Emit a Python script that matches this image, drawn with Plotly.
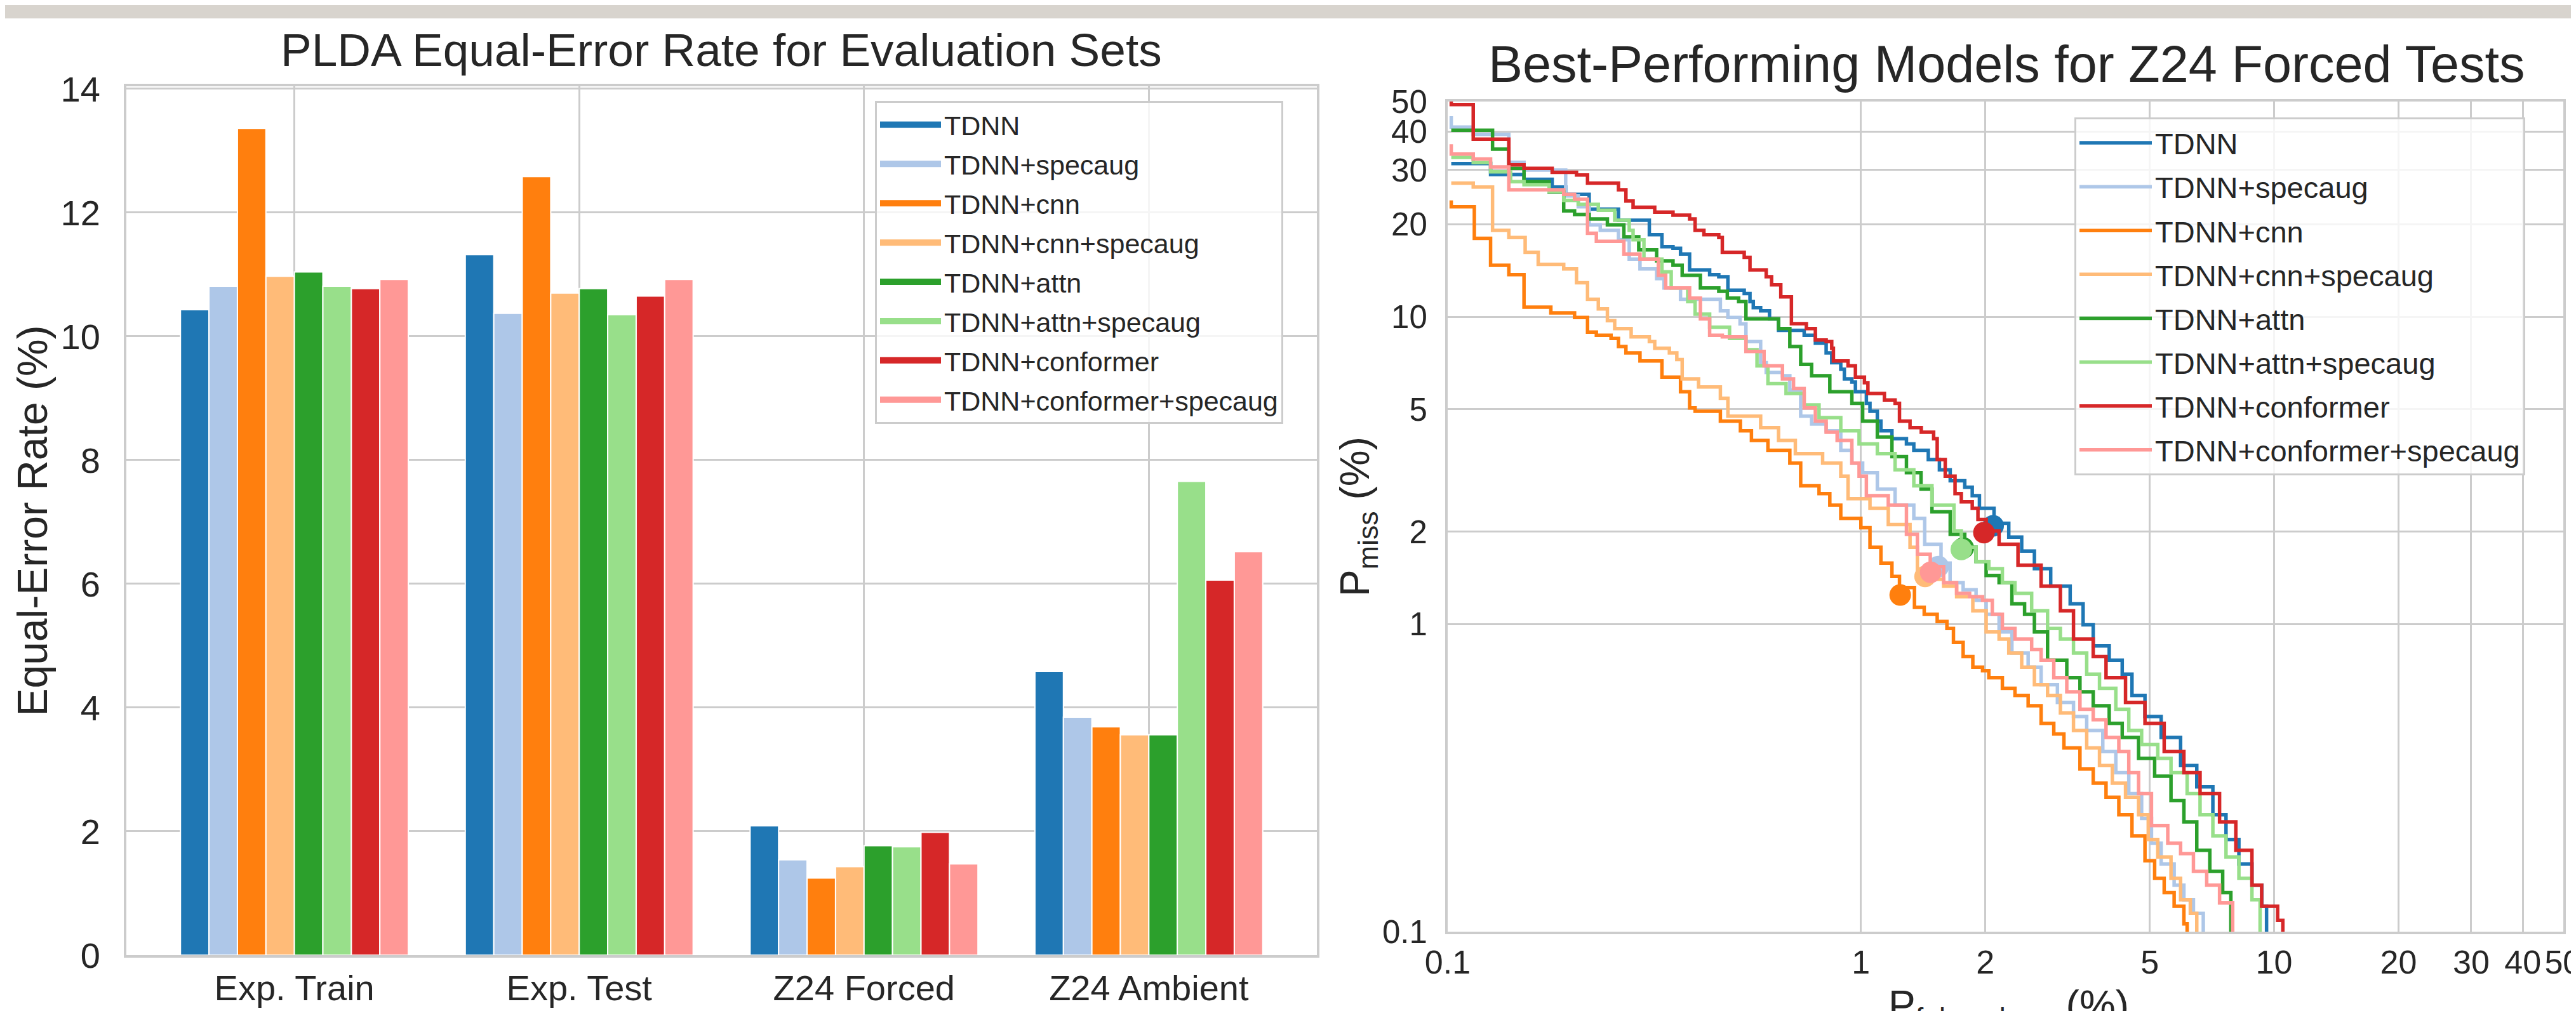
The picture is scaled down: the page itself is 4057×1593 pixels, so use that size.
import numpy as np
import plotly.graph_objects as go

# ---------------- data ----------------
categories = ["Exp. Train", "Exp. Test", "Z24 Forced", "Z24 Ambient"]
models = ["TDNN", "TDNN+specaug", "TDNN+cnn", "TDNN+cnn+specaug",
          "TDNN+attn", "TDNN+attn+specaug", "TDNN+conformer", "TDNN+conformer+specaug"]
colors = ["#1f77b4", "#aec7e8", "#ff7f0e", "#ffbb78",
          "#2ca02c", "#98df8a", "#d62728", "#ff9896"]

# equal-error rate (%) per evaluation set
eer_tdnn = [10.43, 11.32, 2.09, 4.585]
eer_tdnn_spec = [10.81, 10.37, 1.54, 3.845]
eer_cnn = [13.36, 12.58, 1.245, 3.69]
eer_cnn_spec = [10.97, 10.70, 1.43, 3.56]
eer_attn = [11.04, 10.77, 1.77, 3.56]
eer_attn_spec = [10.81, 10.35, 1.75, 7.655]
eer_conf = [10.77, 10.65, 1.985, 6.06]
eer_conf_spec = [10.92, 10.92, 1.475, 6.52]

# DET curves (false alarm %, miss %) on Z24 Forced
fa_tdnn = [0.102, 0.127, 0.153, 0.179, 0.193, 0.220, 0.259, 0.3076, 0.330, 0.351, 0.366, 0.385, 0.4305, 0.453,
           0.4766, 0.522, 0.539, 0.549, 0.572, 0.601, 0.632, 0.729, 0.776, 0.824, 0.850, 0.894, 0.912, 0.951,
           0.970, 1.031, 1.052, 1.096, 1.118, 1.189, 1.289, 1.343, 1.456, 1.549, 1.645, 1.784, 1.86, 1.936, 2.10,
           2.28, 2.45, 2.63, 2.88, 3.21, 3.45, 3.65, 3.99, 4.29, 4.53, 4.87, 5.33, 5.94, 6.50, 7.11, 7.65, 8.22,
           8.84, 9.34, 9.59]
miss_tdnn = [31.5, 29.0, 28.0, 26.4, 25.0, 22.4, 20.6, 18.5, 16.9, 16.7, 16.0, 14.2, 13.7, 13.5,
             12.2, 11.9, 11.2, 10.7, 10.45, 9.84, 9.03, 8.71, 8.2, 7.63, 7.09, 6.75, 6.28, 6.13,
             5.70, 5.23, 4.93, 4.58, 4.26, 4.01, 3.86, 3.68, 3.43, 3.18, 2.93, 2.79, 2.62, 2.38, 2.13,
             1.92, 1.73, 1.516, 1.33, 1.165, 0.995, 0.85, 0.764, 0.688, 0.587, 0.501, 0.428, 0.347, 0.296, 0.240,
             0.1995, 0.166, 0.1416, 0.121, 0.1]

fa_tdnn_spec = [0.102, 0.102, 0.1153, 0.1406, 0.153, 0.193, 0.207, 0.220, 0.234, 0.259, 0.275, 0.292, 0.3204,
                0.3338, 0.366, 0.457, 0.4766, 0.51, 0.527, 0.572, 0.590, 0.646, 0.673, 0.715, 0.760, 0.824,
                0.894, 0.951, 1.01, 1.096, 1.21, 1.343, 1.427, 1.563,
                1.644, 1.768, 1.90, 2.01, 2.16, 2.32, 2.54, 2.73, 2.99, 3.27, 3.52, 3.85, 4.14, 4.45, 4.78,
                5.05, 5.33, 5.73, 6.05, 6.38, 6.74]
miss_tdnn_spec = [44.9, 41.4, 39.2, 31.8, 30.0, 24.7, 22.8, 19.9, 19.1, 17.8, 15.4, 14.3, 13.3,
                  12.4, 11.4, 10.45, 9.95, 9.48, 8.3, 7.09, 6.59, 6.43, 5.77, 4.75, 4.48, 4.26,
                  3.68, 3.34, 3.11, 2.75, 2.44, 2.21, 1.82, 1.58,
                  1.365, 1.295, 1.196, 1.077, 0.944, 0.806, 0.725, 0.636, 0.557, 0.501, 0.451, 0.385, 0.329,
                  0.281, 0.2335, 0.194, 0.166, 0.1416, 0.127, 0.1147, 0.1]

fa_cnn = [0.102, 0.102, 0.116, 0.127, 0.1406, 0.153, 0.1777, 0.2028, 0.218, 0.229, 0.2485, 0.259, 0.270,
          0.292, 0.330, 0.366, 0.385, 0.397, 0.457, 0.511, 0.5434, 0.5957, 0.673, 0.715, 0.792, 0.841,
          0.894, 1.0, 1.052, 1.118, 1.189, 1.24,
          1.348, 1.423, 1.53, 1.615, 1.675, 1.768, 1.866, 1.97, 2.04, 2.20, 2.36, 2.54, 2.73, 2.93, 3.10,
          3.39, 3.65, 3.92, 4.21, 4.53, 4.87, 5.14, 5.42, 5.73, 6.05, 6.16]
miss_cnn = [23.9, 22.8, 18.0, 14.7, 13.7, 10.75, 10.3, 9.95, 8.92, 8.71, 8.5, 8.0, 7.63,
            7.18, 6.36, 5.70, 5.05, 4.93, 4.58, 4.26, 3.96, 3.68, 3.34, 2.82, 2.66, 2.44,
            2.21, 2.06, 1.78, 1.58, 1.43, 1.316,
            1.135, 1.077, 1.021, 0.969, 0.872, 0.785, 0.725, 0.706, 0.670, 0.619, 0.587, 0.543, 0.476,
            0.4395, 0.3957, 0.338, 0.304, 0.2735, 0.240, 0.205, 0.170, 0.149, 0.134, 0.121, 0.106, 0.1]

fa_cnn_spec = [0.102, 0.1153, 0.1284, 0.1406, 0.154, 0.1656, 0.1909, 0.205, 0.218, 0.2315, 0.2435, 0.2536,
               0.278, 0.3076, 0.317, 0.344, 0.3585, 0.3694, 0.4047, 0.457, 0.4766, 0.572, 0.632, 0.694,
               0.808, 0.894, 0.931, 1.052, 1.165, 1.315, 1.370, 1.427,
               1.586, 1.705, 1.866, 2.01, 2.16, 2.28, 2.45, 2.63, 2.83, 3.04, 3.27, 3.52, 3.78, 4.06,
               4.37, 4.70, 4.96, 5.23, 5.63, 5.94, 6.27, 6.50]
miss_cnn_spec = [27.2, 26.4, 19.1, 18.1, 16.2, 14.8, 14.3, 12.9, 11.4, 10.6, 9.71, 9.15,
                 8.6, 8.30, 7.9, 7.63, 7.26, 6.28, 5.91, 5.43, 4.75, 4.36, 3.96, 3.59,
                 3.34, 3.03, 2.56, 2.38, 2.11, 1.78, 1.47, 1.40,
                 1.33, 1.228, 1.105, 0.944, 0.895, 0.806, 0.725, 0.636, 0.587, 0.515, 0.451, 0.3957, 0.347,
                 0.304, 0.2735, 0.240, 0.1995, 0.175, 0.149, 0.127, 0.1147, 0.1]

fa_attn = [0.102, 0.1284, 0.1406, 0.153, 0.176, 0.1909, 0.2028, 0.220, 0.2435, 0.2669, 0.29, 0.3204,
           0.351, 0.3694, 0.4089, 0.453, 0.475, 0.506, 0.527, 0.632, 0.673, 0.715, 0.760, 0.841, 0.951,
           1.01, 1.096, 1.189, 1.289, 1.398, 1.486, 1.645, 1.784,
           1.90, 2.01, 2.16, 2.32, 2.49, 2.63, 2.83, 3.15, 3.39, 3.65, 3.99, 4.29, 4.70, 5.14, 5.63,
           6.05, 6.50, 6.99, 7.51, 7.86]
miss_attn = [40.4, 35.1, 30.4, 27.5, 25.5, 22.1, 21.5, 20.8, 19.9, 18.2, 16.5, 15.2,
             14.7, 13.65, 12.4, 12.1, 11.5, 11.2, 9.84, 9.15, 8.0, 7.0, 6.43, 5.70, 5.23,
             4.58, 4.06, 3.51, 3.11, 2.75, 2.32, 1.96, 1.78,
             1.60, 1.44, 1.365, 1.165, 1.077, 0.944, 0.764, 0.670, 0.603, 0.543, 0.476, 0.428, 0.366,
             0.3205, 0.267, 0.2275, 0.184, 0.157, 0.134, 0.1]

fa_attn_spec = [0.102, 0.1153, 0.127, 0.142, 0.153, 0.176, 0.1909, 0.207, 0.2315, 0.2536, 0.275, 0.281,
                0.2985, 0.330, 0.3475, 0.381, 0.397, 0.4305, 0.481, 0.527, 0.5605, 0.5957, 0.659, 0.729,
                0.792, 0.894, 0.990, 1.096, 1.21, 1.343, 1.486, 1.68, 1.75,
                1.90, 2.04, 2.20, 2.36, 2.59, 2.83, 3.04, 3.27, 3.52, 3.78, 4.14, 4.45, 4.78, 5.23, 5.63,
                6.16, 6.62, 7.11, 7.65, 8.22, 8.84, 9.25]
miss_attn_spec = [33.0, 31.7, 29.6, 27.5, 26.9, 25.6, 23.9, 23.2, 22.2, 20.6, 19.1, 17.8,
                  15.4, 14.0, 12.4, 11.2, 10.2, 9.25, 8.5, 7.81, 6.92, 6.06, 5.63, 5.17,
                  4.70, 4.26, 3.86, 3.59, 3.18, 2.82, 2.44, 2.01, 1.78,
                  1.60, 1.516, 1.365, 1.26, 1.105, 0.969, 0.895, 0.806, 0.688, 0.619, 0.529, 0.451, 0.406,
                  0.366, 0.329, 0.281, 0.240, 0.205, 0.175, 0.149, 0.127, 0.1]

fa_conf = [0.102, 0.102, 0.1153, 0.1406, 0.153, 0.179, 0.205, 0.218, 0.259, 0.270, 0.281, 0.317, 0.351,
           0.385, 0.397, 0.417, 0.453, 0.462, 0.522, 0.539, 0.590, 0.608, 0.640, 0.679, 0.738, 0.776,
           0.824, 0.850, 0.858, 0.931, 0.970, 1.02, 1.04, 1.14, 1.21, 1.24, 1.315, 1.40, 1.50, 1.53,
           1.60, 1.69, 1.75, 1.86, 1.92, 2.01,
           2.16, 2.40, 2.73, 3.04, 3.27, 3.65, 3.92, 4.37, 4.87, 5.42, 6.05, 6.62, 7.38, 8.08, 8.84,
           9.33, 10.2, 10.5]
miss_conf = [53.0, 49.0, 37.8, 31.2, 30.4, 29.5, 28.9, 27.2, 25.9, 23.8, 22.7, 21.9, 21.4,
             20.8, 19.1, 18.5, 18.1, 16.2, 15.6, 14.2, 13.5, 12.7, 11.6, 9.5, 9.15, 8.4,
             8.3, 7.9, 7.18, 6.92, 6.36, 6.10, 5.63, 5.36, 5.23, 4.58, 4.36, 4.21, 4.01, 3.43,
             3.03, 2.66, 2.50, 2.38, 2.19, 2.01,
             1.82, 1.557, 1.33, 1.105, 0.895, 0.785, 0.670, 0.557, 0.476, 0.385, 0.329, 0.281, 0.2275,
             0.184, 0.1416, 0.121, 0.1088, 0.1]

fa_conf_spec = [0.102, 0.102, 0.1153, 0.127, 0.1406, 0.1909, 0.2028, 0.218, 0.229, 0.2669, 0.292, 0.3235,
                0.337, 0.385, 0.4089, 0.4305, 0.462, 0.527, 0.583, 0.646, 0.687, 0.729, 0.776, 0.824,
                0.876, 0.951, 0.990, 1.031, 1.165, 1.289, 1.370, 1.472,
                1.586, 1.705, 1.833, 1.97, 2.08, 2.20, 2.36, 2.59, 2.73, 2.93, 3.15, 3.39, 3.65, 3.92,
                4.21, 4.45, 4.70, 5.05, 5.53, 5.94, 6.38, 6.87, 7.38, 7.94]
miss_conf_spec = [36.4, 33.8, 32.6, 30.7, 25.9, 25.0, 24.1, 18.7, 17.6, 16.0, 15.4, 13.65,
                  12.4, 11.5, 9.84, 8.71, 8.6, 7.71, 6.92, 6.28, 5.84, 5.05, 4.58, 4.21,
                  3.96, 3.34, 3.03, 2.62, 2.44, 1.96, 1.69, 1.54,
                  1.365, 1.26, 1.228, 1.196, 1.077, 0.969, 0.895, 0.827, 0.764, 0.670, 0.603, 0.529, 0.489,
                  0.428, 0.385, 0.329, 0.281, 0.2215, 0.194, 0.1795, 0.157, 0.1416, 0.124, 0.1]

det_ticks = [0.1, 1, 2, 5, 10, 20, 30, 40, 50]
det_tick_text = ["0.1", "1", "2", "5", "10", "20", "30", "40", "50"]

eer_lists = [eer_tdnn, eer_tdnn_spec, eer_cnn, eer_cnn_spec, eer_attn, eer_attn_spec, eer_conf, eer_conf_spec]
fa_lists = [fa_tdnn, fa_tdnn_spec, fa_cnn, fa_cnn_spec, fa_attn, fa_attn_spec, fa_conf, fa_conf_spec]
miss_lists = [miss_tdnn, miss_tdnn_spec, miss_cnn, miss_cnn_spec, miss_attn, miss_attn_spec, miss_conf,
              miss_conf_spec]

# ---------------- layout helpers ----------------
W, H = 4057, 1593
L, R, T, B = 191, 4029, 128, 1497
PW, PH = R - L, B - T


def px(xp):
    return (xp - L) / PW


def py(yp):
    return (B - yp) / PH


GRID = "#cccccc"
TXT = "#262626"
FONT = "Liberation Sans, Arial, Helvetica, sans-serif"

fig = go.Figure()

# bars (legend shown through wide swatch entries of the same legend group)
for i, m in enumerate(models):
    fig.add_trace(go.Bar(
        x=categories, y=eer_lists[i], name=m, legendgroup=m, showlegend=False,
        marker=dict(color=colors[i], line=dict(color="white", width=2)),
        xaxis="x", yaxis="y"))
    fig.add_trace(go.Scatter(
        x=[None], y=[None], mode="lines", name=m, legendgroup=m, legend="legend",
        line=dict(color=colors[i], width=26), hoverinfo="skip",
        xaxis="x", yaxis="y"))

forced_idx = categories.index("Z24 Forced")
for i, m in enumerate(models):
    fig.add_trace(go.Scatter(
        x=fa_lists[i], y=miss_lists[i], mode="lines", name=m, legendgroup=m + "_det",
        legend="legend2", line=dict(color=colors[i], width=5.5, shape="hv"),
        xaxis="x2", yaxis="y2"))
    e = eer_lists[i][forced_idx]
    fig.add_trace(go.Scatter(
        x=[e], y=[e], mode="markers", showlegend=False, legendgroup=m + "_det", legend="legend2",
        marker=dict(color=colors[i], size=34, line=dict(width=0)),
        xaxis="x2", yaxis="y2"))

axis_common = dict(showgrid=True, gridcolor=GRID, gridwidth=3, showline=True, linecolor=GRID,
                   linewidth=4, mirror=True, zeroline=False, automargin=False, ticks="",
                   tickfont=dict(size=56, color=TXT, family=FONT))

log_top = np.log10(50) + 0.001

fig.update_layout(
    width=W, height=H,
    margin=dict(l=L, r=W - R, t=T, b=H - B),
    paper_bgcolor="white", plot_bgcolor="white",
    font=dict(family=FONT, color=TXT, size=54),
    barmode="group", bargap=0.2, bargroupgap=0,
    xaxis=dict(axis_common, domain=[0, px(2066)], anchor="y", type="category",
               range=[-0.59, 3.59], ticklabelstandoff=0),
    yaxis=dict(axis_common, domain=[0, 1], anchor="x", range=[0, 14.04], tick0=0, dtick=2,
               ticklabelstandoff=26,
               title=dict(text="Equal-Error Rate (%)", font=dict(size=66, color=TXT), standoff=0)),
    xaxis2=dict(axis_common, domain=[px(2272), 1], anchor="y2", type="log",
                range=[-1, log_top], tickvals=det_ticks, ticktext=det_tick_text,
                tickfont=dict(size=52, color=TXT, family=FONT), ticklabelstandoff=0,
                ticklabeloverflow="allow"),
    yaxis2=dict(axis_common, domain=[py(1460), py(152)], anchor="x2", type="log",
                range=[-1, log_top], tickvals=det_ticks, ticktext=det_tick_text,
                tickfont=dict(size=51, color=TXT, family=FONT), ticklabelstandoff=18,
                ticklabeloverflow="allow",
                title=dict(text="P<sub>miss</sub> (%)", font=dict(size=64, color=TXT), standoff=0)),
    legend=dict(x=px(1370), y=py(151), xanchor="left", yanchor="top",
                bgcolor="rgba(255,255,255,0.8)", bordercolor=GRID, borderwidth=3,
                font=dict(size=43, color=TXT, family=FONT), tracegroupgap=3, itemwidth=96),
    legend2=dict(x=px(3259), y=py(177), xanchor="left", yanchor="top",
                 bgcolor="rgba(255,255,255,0.8)", bordercolor=GRID, borderwidth=3,
                 font=dict(size=47, color=TXT, family=FONT), tracegroupgap=5, itemwidth=114),
    annotations=[
        dict(text="PLDA Equal-Error Rate for Evaluation Sets", xref="paper", yref="paper",
             x=px(1128), y=py(71), xanchor="center", yanchor="middle", showarrow=False,
             font=dict(size=73, color=TXT, family=FONT)),
        dict(text="Best-Performing Models for Z24 Forced Tests", xref="paper", yref="paper",
             x=px(3152), y=py(93), xanchor="center", yanchor="middle", showarrow=False,
             font=dict(size=81, color=TXT, family=FONT)),
        dict(text="P<sub>false alarm</sub> (%)", xref="paper", yref="paper",
             x=px(3155), y=py(1538), xanchor="center", yanchor="top", showarrow=False,
             font=dict(size=64, color=TXT, family=FONT)),
    ],
    shapes=[dict(type="rect", xref="paper", yref="paper", x0=px(0), x1=px(W), y0=py(21), y1=py(0),
                 fillcolor="#d8d4ce", line=dict(width=0), layer="above")],
)

fig.write_html("out.html")
